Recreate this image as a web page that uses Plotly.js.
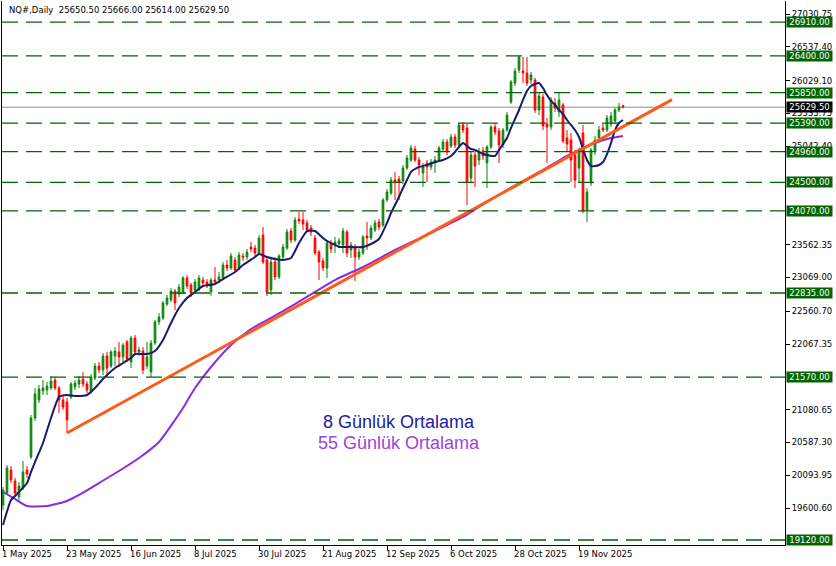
<!DOCTYPE html>
<html><head><meta charset="utf-8">
<script src="https://cdn.plot.ly/plotly-3.0.1.min.js"></script>
<style>html,body{margin:0;padding:0;background:#fff;}#chart{width:836px;height:566px;}</style>
</head><body><div id="chart"></div>
<script>
const symbol = 'NQ#,Daily';

const open = [
19646,19827,20173,20007,19767,19902,20173,20368,20955,21226,
21361,21376,21406,21526,21406,21226,21196,21271,21421,21466,
21541,21466,21361,21557,21737,21677,21887,21737,21887,21948,
21872,22098,21797,22158,21948,21963,21737,21647,22083,22399,
22459,22669,22730,22865,22820,22850,23061,22955,22880,22895,
23030,23000,22850,23030,23030,23061,23256,23211,23331,23211,
23391,23376,23527,23512,23436,23707,23331,22880,23301,23076,
23376,23512,23767,23632,23948,23933,23888,23812,23662,23452,
23316,23211,23587,23557,23572,23557,23752,23482,23527,23376,
23436,23692,23662,23782,23903,23858,24234,24339,24534,24549,
24519,24715,24835,25001,24835,24640,24790,24730,24790,24835,
25001,25106,25046,25181,25061,25362,25317,24565,24910,24835,
24971,24790,25031,25332,25271,25061,25286,25708,25993,26189,
26174,26144,26038,26038,25587,25783,25377,25332,25692,25557,
25662,25166,25136,24910,24715,25241,24083,24489,24956,25166,
25317,25286,25377,25422,25587,25650.5];

const high = [
19917,20248,20233,20053,19992,20308,20233,21000,21406,21451,
21526,21496,21587,21572,21436,21286,21256,21496,21526,21587,
21647,21511,21617,21782,21797,21932,21948,21978,22023,22098,
22083,22128,22188,22203,22023,22023,22098,22128,22429,22534,
22715,22805,22910,22895,22970,23091,23106,22985,23045,23106,
23076,23045,23061,23226,23151,23301,23331,23436,23376,23451,
23436,23497,23602,23557,23707,23827,23361,23361,23376,23421,
23572,23797,23812,23978,24053,24053,23933,23858,23707,23482,
23361,23632,23632,23677,23662,23812,23782,23602,23572,23497,
23707,23903,23858,23933,23948,24264,24399,24580,24655,24595,
24760,24910,25061,25046,24880,24790,24835,24850,24895,25046,
25151,25151,25226,25226,25392,25407,25377,24956,24971,25016,
25031,25061,25362,25377,25317,25317,25557,26038,26219,26399,
26384,26384,26159,26069,25843,25828,25467,25783,25768,25858,
25692,25286,25241,24986,25016,25362,24414,25016,25196,25347,
25377,25512,25557,25617,25692,25666];

const low = [
19571,19797,19977,19767,19722,19872,20053,20338,20910,21181,
21301,21301,21376,21376,21030,21075,20729,21241,21376,21406,
21421,21331,21316,21526,21632,21602,21557,21707,21737,21722,
21797,21797,21707,21902,21887,21617,21692,21572,22053,22353,
22429,22639,22700,22579,22775,22820,22895,22775,22835,22865,
22925,22910,22790,22970,22985,23030,23166,23181,23136,23181,
23316,23331,23451,23391,23406,23271,22790,22805,23030,23045,
23331,23482,23587,23602,23873,23782,23752,23692,23406,23030,
23166,23061,23436,23436,23527,23436,23376,23361,23015,23331,
23406,23482,23632,23752,23782,23828,24204,24309,24234,24234,
24474,24685,24805,24805,24610,24429,24504,24685,24640,24805,
24971,24910,25016,25016,25031,25241,24158,24504,24429,24760,
24835,24414,25001,25211,24790,25016,25256,25677,25948,26144,
25993,25948,25978,25542,25512,25286,24790,25286,25557,25482,
25091,24956,24504,24414,24504,24038,23903,24444,24910,25136,
25256,25256,25332,25377,25557,25614];

const close = [
19872,20203,20022,19827,19932,20143,20113,20955,21316,21391,
21406,21436,21511,21406,21226,21120,20925,21466,21481,21526,
21466,21376,21572,21737,21677,21887,21707,21948,21963,21872,
22053,21842,22158,21948,21978,21677,21872,22083,22399,22474,
22685,22760,22865,22685,22925,23061,22940,22835,23000,23061,
22985,22955,23030,23000,23076,23256,23211,23391,23181,23406,
23376,23451,23497,23436,23662,23301,22850,23301,23076,23391,
23527,23752,23632,23933,23918,23873,23782,23752,23436,23301,
23211,23587,23497,23602,23617,23767,23436,23557,23376,23451,
23677,23662,23812,23888,23828,24234,24354,24534,24504,24504,
24715,24865,25016,24835,24760,24730,24730,24805,24835,25016,
25106,24956,25181,25061,25362,25286,24504,24910,24745,24956,
24895,25031,25332,25256,25061,25286,25512,26008,26174,26384,
26144,25993,26114,25587,25798,25347,25332,25738,25617,25738,
25121,25076,24835,24534,24956,24068,24354,24986,25136,25286,
25286,25467,25497,25587,25632,25629.5];

const dateTickBars = [0,16,32,48,64,80,96,112,128,144];
const dateTickLabels = ['1 May 2025','23 May 2025','16 Jun 2025','8 Jul 2025','30 Jul 2025','21 Aug 2025','12 Sep 2025','6 Oct 2025','28 Oct 2025','19 Nov 2025'];

const priceTicks = [27030.75,26537.40,26029.10,25535.75,25042.40,23562.35,23069.00,22560.70,22067.35,21080.65,20587.30,20093.95,19600.60];

const levels = [26910,26400,25850,25390,24960,24500,24070,22835,21570,19120];

const ma8Bars = [0,2,3,6,7,8,10,12,14,16,18,21,23,25,28,30,32,33,36,38,40,42,44,46,48,50,53,55,58,60,63,64,66,68,70,72,74,76,78,80,81,83,84,86,90,92,94,96,97,98,99,100,101,102,103,104,106,108,110,112,113,114,115,116,117,118,119,120,123,124,126,127,128,129,130,131,132,133,134,135,136,137,138,139,140,141,142,143,144,145,146,147,148,149,150,151,152,153,154,155];
const ma8Vals = [19346,19722,19782,19977,20143,20293,20579,20955,21271,21301,21286,21301,21406,21541,21707,21782,21857,21917,21917,21963,22128,22384,22609,22760,22850,22940,22970,23045,23151,23256,23376,23421,23376,23346,23331,23361,23587,23767,23767,23662,23617,23557,23527,23527,23527,23572,23647,23888,24038,24158,24279,24414,24534,24655,24700,24730,24760,24805,24835,24895,24956,25031,25091,25046,25001,24986,24956,24925,24895,24986,25166,25317,25452,25587,25738,25873,25948,25978,25993,25918,25813,25723,25662,25587,25527,25437,25362,25286,25181,25001,24835,24745,24745,24760,24805,24925,25091,25286,25392,25437];

const ma55Bars = [0,3,6,11,16,19,24,29,34,39,43,45,48,52,57,62,67,73,83,90,98,107,115,119,126,135,140,143,145,148,151,155];
const ma55Vals = [19842,19737,19631,19631,19707,19797,19977,20158,20353,20594,20925,21105,21406,21722,22053,22293,22459,22669,23030,23226,23482,23737,23978,24128,24384,24685,24865,24956,25016,25091,25151,25196];

const trendBars = [16,167.25];
const trendPrices = [20729,25744];

const legendLabels = ['8 Günlük Ortalama','55 Günlük Ortalama'];

const xIdx = open.map((_, i) => i);
const n = close.length;
const fmt = v => v.toFixed(2);
const axisFont = {family:'DejaVu Sans, Tahoma, sans-serif', size:8.5, color:'#000'};

const traces = [
  {type:'candlestick', x:xIdx, open:open, high:high, low:low, close:close,
   increasing:{line:{color:'#0a870a', width:1}, fillcolor:'#0a870a'},
   decreasing:{line:{color:'#ff0000', width:1}, fillcolor:'#ff0000'},
   whiskerwidth:0, hoverinfo:'skip', showlegend:false},
  {type:'scatter', mode:'lines', x:ma55Bars, y:ma55Vals,
   line:{color:'#8a2be2', width:2, shape:'spline', smoothing:0.6}, hoverinfo:'skip'},
  {type:'scatter', mode:'lines', x:ma8Bars, y:ma8Vals,
   line:{color:'#191970', width:2, shape:'spline', smoothing:0.5}, hoverinfo:'skip'},
  {type:'scatter', mode:'lines', x:trendBars, y:trendPrices,
   line:{color:'#ff5a1a', width:3}, hoverinfo:'skip'}
];

const shapes = levels.map(lv => ({type:'line', xref:'paper', x0:0, x1:1, yref:'y', y0:lv, y1:lv,
  line:{color:'#006400', width:1.3, dash:'16px,8px'}, layer:'above'}));
shapes.push({type:'line', xref:'paper', x0:0, x1:1, yref:'y', y0:close[n-1], y1:close[n-1],
  line:{color:'#8c8c8c', width:1}, layer:'below'});

const annotations = [];
levels.forEach(lv => annotations.push({xref:'paper', x:1, xanchor:'left', xshift:1, yref:'y', y:lv, yanchor:'middle',
  text:fmt(lv), showarrow:false, bgcolor:'#006400', borderpad:0, height:10, width:45,
  font:{family:axisFont.family, size:8.5, color:'#ffffff'}}));
annotations.push({xref:'paper', x:1, xanchor:'left', xshift:1, yref:'y', y:close[n-1], yanchor:'middle',
  text:fmt(close[n-1]), showarrow:false, bgcolor:'#000000', borderpad:0, height:10, width:45,
  font:{family:axisFont.family, size:8.5, color:'#ffffff'}});
dateTickBars.forEach((b, k) => annotations.push({xref:'x', x:b, xanchor:'left', xshift:-3, yref:'paper', y:0, yanchor:'top', yshift:-2,
  text:dateTickLabels[k], showarrow:false, font:axisFont}));
annotations.push({xref:'paper', x:0, xanchor:'left', xshift:5, yref:'paper', y:1, yanchor:'top', yshift:-2,
  text:symbol + '\u00a0\u00a0' + [open[n-1], high[n-1], low[n-1], close[n-1]].map(fmt).join(' '),
  showarrow:false, font:axisFont});
annotations.push({xref:'paper', x:0.507, yref:'paper', y:0.2261, xanchor:'center', yanchor:'middle',
  text:legendLabels[0], showarrow:false, font:{family:'Liberation Sans, Arial, sans-serif', size:18, color:'#2020a8'}});
annotations.push({xref:'paper', x:0.507, yref:'paper', y:0.1875, xanchor:'center', yanchor:'middle',
  text:legendLabels[1], showarrow:false, font:{family:'Liberation Sans, Arial, sans-serif', size:18, color:'#9a45dd'}});

const layout = {
  width:836, height:566,
  margin:{l:2, r:51, t:1, b:21, pad:0},
  paper_bgcolor:'#ffffff', plot_bgcolor:'#ffffff',
  showlegend:false, boxgap:0.4,
  xaxis:{type:'linear', range:[-0.25,195.5], showgrid:false, zeroline:false, showline:true,
    linecolor:'#000', linewidth:1, ticks:'outside', ticklen:4, tickcolor:'#000',
    tickvals:dateTickBars, showticklabels:false, rangeslider:{visible:false}, fixedrange:true},
  yaxis:{side:'right', range:[19044.8,27226.56], showgrid:false, zeroline:false, showline:true, mirror:true,
    linecolor:'#000', linewidth:1, ticks:'outside', ticklen:4, tickcolor:'#000',
    tickvals:priceTicks, ticktext:priceTicks.map(fmt), tickfont:axisFont, fixedrange:true},
  shapes:shapes, annotations:annotations
};

Plotly.newPlot('chart', traces, layout, {staticPlot:true, displayModeBar:false});
</script>
</body></html>
